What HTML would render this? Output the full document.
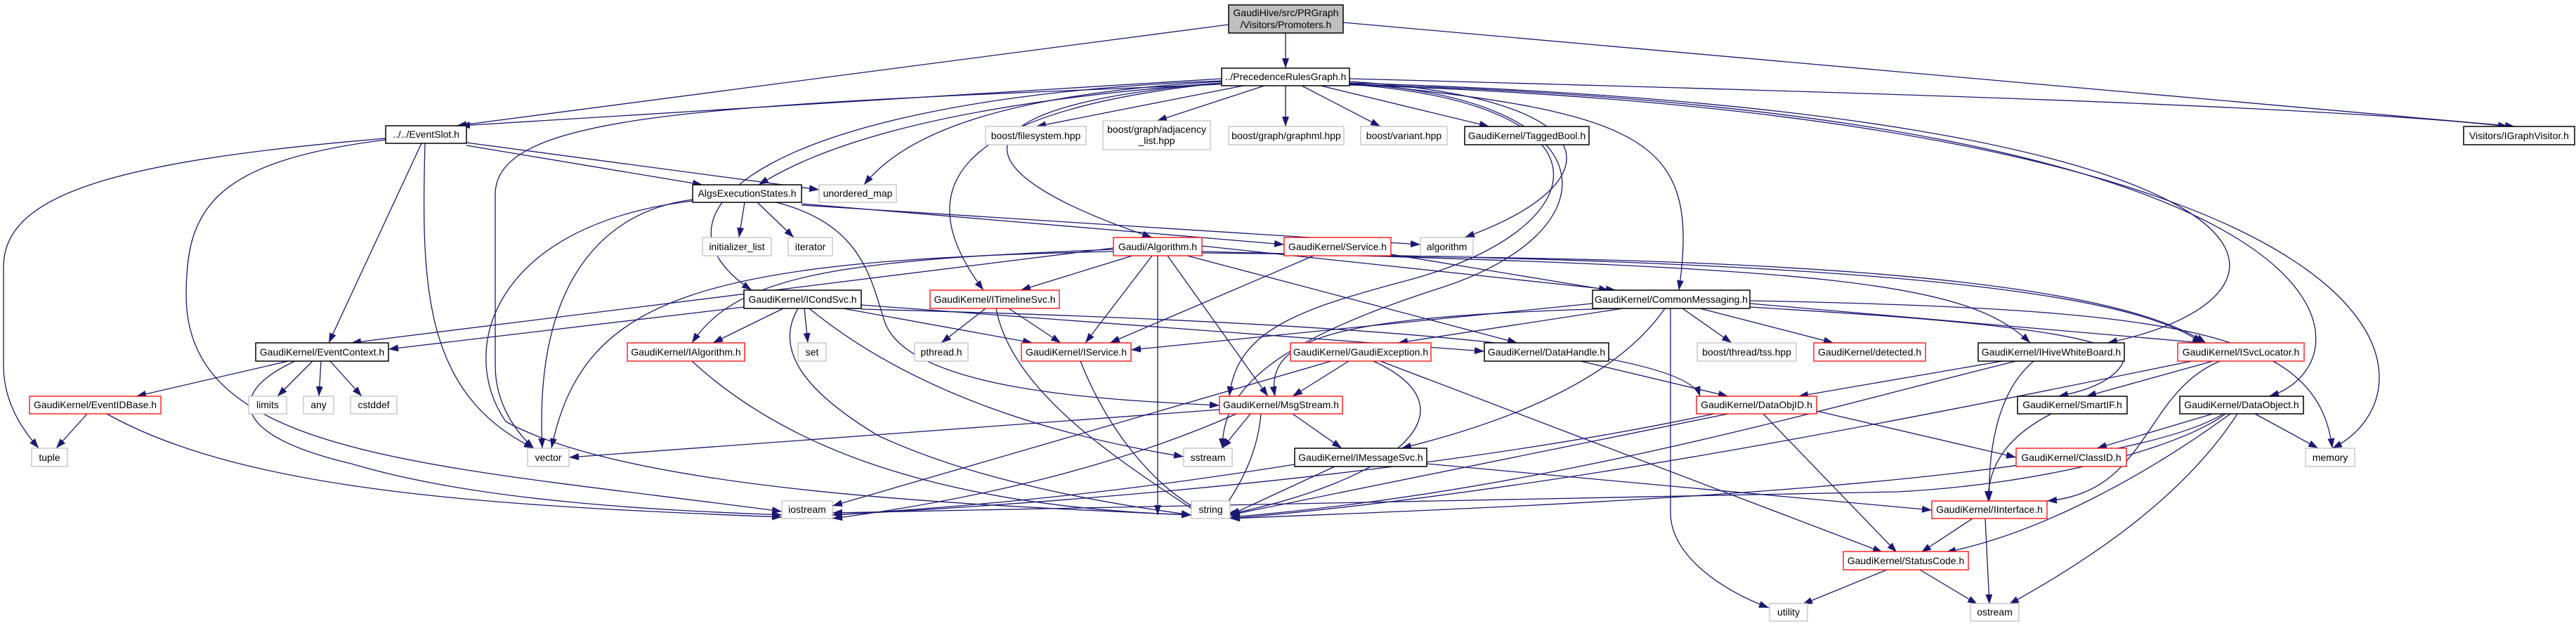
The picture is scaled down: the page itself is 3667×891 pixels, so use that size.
<!DOCTYPE html>
<html><head><meta charset="utf-8"><style>
html,body{margin:0;padding:0;background:#fff;}
svg{display:block;}
text{font-family:"Liberation Sans",Helvetica,Arial,sans-serif;font-size:14px;fill:#000;}
.e{fill:none;stroke:#191970;stroke-width:1.3;marker-end:url(#a);}
.b{fill:#fff;stroke:#000;stroke-width:1.5;}
.r{fill:#fff;stroke:#ff0000;stroke-width:1.3;}
.g{fill:#fff;stroke:#bfbfbf;stroke-width:1.3;}
</style></head><body>
<svg width="3667" height="891" viewBox="0 0 3667 891" xmlns="http://www.w3.org/2000/svg">
<defs><marker id="a" markerUnits="userSpaceOnUse" markerWidth="14" markerHeight="10" refX="14" refY="5" orient="auto"><path d="M0,0 L14,5 L0,10 z" fill="#191970"/></marker></defs>
<g>
<!-- Promoters -->
<path class="e" d="M1749,35 L650,179"/>
<path class="e" d="M1830,47 L1830,97"/>
<path class="e" d="M1912,32 L3580,180"/>
<!-- PRG -->
<path class="e" d="M1739,112 L655,179"/>
<path class="e" d="M1770,122 L1475,180"/>
<path class="e" d="M1800,122 L1647,172"/>
<path class="e" d="M1830,122 L1830,180"/>
<path class="e" d="M1853,122 L1965,180"/>
<path class="e" d="M1880,122 L2120,180"/>
<path class="e" d="M1921,112 C2600,130 3300,150 3570,180"/>
<path class="e" d="M1739,118 C1300,150 1150,220 1080,263"/>
<path class="e" d="M1739,116 C1400,135 1280,200 1230,263"/>
<path class="e" d="M1921,116 C2300,140 2300,260 2085,338"/>
<path class="e" d="M1739,118 C1350,150 1350,240 1640,338"/>
<path class="e" d="M1739,115 C1100,140 900,300 1070,413"/>
<path class="e" d="M1739,118 C1330,160 1300,280 1400,413"/>
<path class="e" d="M1921,118 C2350,160 2420,200 2390,413"/>
<path class="e" d="M1921,118 C3300,160 3330,420 3000,488"/>
<path class="e" d="M1921,120 C3400,160 3380,520 3230,564"/>
<path class="e" d="M1921,121 C3470,170 3480,560 3320,638"/>
<path class="e" d="M1739,120 C1000,150 700,160 705,280 L705,520 C705,580 740,620 760,638"/>
<path class="e" d="M1921,120 C2320,150 2270,330 2000,400 C1850,440 1760,470 1750,564"/>
<path class="e" d="M1921,119 C2300,140 2300,330 2050,410 C1800,490 1740,560 1740,638"/>
<!-- EventSlot -->
<path class="e" d="M549,197 C150,230 5,280 5,380 L5,520 C5,580 40,620 55,638"/>
<path class="e" d="M600,204 L468,488"/>
<path class="e" d="M605,204 C600,400 600,560 760,638"/>
<path class="e" d="M664,207 L1000,263"/>
<path class="e" d="M664,203 L1166,270"/>
<path class="e" d="M549,199 C300,230 265,300 265,420 C265,650 600,660 1113,728"/>
<!-- EventContext -->
<path class="e" d="M410,514 L194,564"/>
<path class="e" d="M445,514 L395,564"/>
<path class="e" d="M457,514 L454,564"/>
<path class="e" d="M470,514 L515,564"/>
<path class="e" d="M420,514 C320,560 330,620 500,660 C700,720 1000,728 1113,733"/>
<!-- EventIDBase -->
<path class="e" d="M124,589 L80,638"/>
<path class="e" d="M152,589 C350,700 700,720 1113,736"/>
<!-- AlgsExecutionStates -->
<path class="e" d="M1060,288 L1052,338"/>
<path class="e" d="M1078,288 L1130,338"/>
<path class="e" d="M1141,290 L1828,348"/>
<path class="e" d="M1141,292 L2022,348"/>
<path class="e" d="M986,284 C860,300 760,400 772,638"/>
<path class="e" d="M986,286 C700,320 650,500 720,600 C900,700 1400,720 1696,733"/>
<path class="e" d="M1105,288 C1230,320 1240,400 1260,460 C1300,560 1600,570 1736,577"/>
<!-- Gaudi/Algorithm -->
<path class="e" d="M1612,364 L1453,413"/>
<path class="e" d="M1640,364 L1545,488"/>
<path class="e" d="M1648,364 L1648,733"/>
<path class="e" d="M1662,364 L1805,564"/>
<path class="e" d="M1711,350 L2300,413"/>
<path class="e" d="M1690,364 L2160,488"/>
<path class="e" d="M1585,355 C1200,370 1050,390 985,488"/>
<path class="e" d="M1585,353 L500,488"/>
<path class="e" d="M1585,358 C1000,370 830,420 785,638"/>
<path class="e" d="M1711,358 C2600,380 2800,400 2890,488"/>
<path class="e" d="M1711,360 C2800,370 3050,430 3135,488"/>
<!-- ICondSvc -->
<path class="e" d="M1115,439 L1015,488"/>
<path class="e" d="M1145,439 L1150,488"/>
<path class="e" d="M1200,439 L1470,488"/>
<path class="e" d="M1059,437 L553,497"/>
<path class="e" d="M1136,439 C1100,500 1150,560 1250,620 C1400,690 1600,720 1696,733"/>
<path class="e" d="M1152,439 C1300,560 1500,620 1685,650"/>
<path class="e" d="M1226,440 C2000,460 2400,500 2420,564"/>
<path class="e" d="M1226,434 L2113,500"/>
<!-- ITimelineSvc -->
<path class="e" d="M1403,439 L1340,488"/>
<path class="e" d="M1436,439 L1510,488"/>
<path class="e" d="M1418,439 C1440,560 1600,660 1710,733"/>
<!-- Service -->
<path class="e" d="M1870,364 L1580,488"/>
<path class="e" d="M1980,362 L2290,413"/>
<path class="e" d="M1980,365 C2800,370 3050,430 3140,488"/>
<!-- CommonMessaging -->
<path class="e" d="M2267,432 L1610,498"/>
<path class="e" d="M2310,439 L1990,488"/>
<path class="e" d="M2300,439 C1900,450 1800,480 1815,564"/>
<path class="e" d="M2370,439 C2300,540 2150,600 1995,638"/>
<path class="e" d="M2395,439 L2465,488"/>
<path class="e" d="M2420,439 L2610,488"/>
<path class="e" d="M2378,439 L2378,730 C2378,790 2450,840 2518,865"/>
<path class="e" d="M2491,432 L3135,488"/>
<path class="e" d="M2491,437 C2700,450 3050,470 3020,520 C3000,550 2950,560 2930,564"/>
<path class="e" d="M2491,428 C3100,440 3300,470 3320,638"/>
<!-- IService / IAlgorithm -->
<path class="e" d="M1538,514 C1580,620 1650,700 1720,733"/>
<path class="e" d="M985,514 C1100,620 1300,720 1696,733"/>
<!-- GaudiException -->
<path class="e" d="M1920,514 L1840,564"/>
<path class="e" d="M1895,514 L1185,720"/>
<path class="e" d="M1955,514 C2100,580 2000,680 1745,733"/>
<path class="e" d="M1965,514 L2680,786"/>
<!-- DataHandle / DataObjID -->
<path class="e" d="M2250,514 L2460,564"/>
<path class="e" d="M2586,585 L2870,651"/>
<path class="e" d="M2460,589 L1751,733"/>
<path class="e" d="M2510,589 L2700,786"/>
<path class="e" d="M2440,589 C2200,640 1800,700 1185,733"/>
<!-- IHiveWhiteBoard -->
<path class="e" d="M2850,514 L2560,564"/>
<path class="e" d="M2895,514 C2840,560 2830,650 2832,713"/>
<path class="e" d="M2870,514 C2600,580 2200,700 1751,736"/>
<!-- ISvcLocator -->
<path class="e" d="M3150,514 L2970,564"/>
<path class="e" d="M3160,514 C3050,560 3060,700 2914,713"/>
<path class="e" d="M3120,514 C2700,600 2200,700 1751,738"/>
<!-- SmartIF -->
<path class="e" d="M2920,589 C2860,620 2830,660 2830,713"/>
<!-- DataObject -->
<path class="e" d="M3150,589 L2985,638"/>
<path class="e" d="M3210,589 L3300,638"/>
<path class="e" d="M3175,589 C3050,680 2900,760 2770,786"/>
<path class="e" d="M3185,589 C3100,720 2950,810 2860,860"/>
<path class="e" d="M3168,589 C3100,640 2900,690 2700,700 L1185,730"/>
<path class="e" d="M3165,589 C3000,690 2200,720 1751,738"/>
<!-- MsgStream -->
<path class="e" d="M1736,583 L810,651"/>
<path class="e" d="M1780,589 L1740,638"/>
<path class="e" d="M1795,589 C1790,650 1760,700 1735,733"/>
<path class="e" d="M1840,589 L1910,638"/>
<path class="e" d="M1760,589 C1600,660 1400,710 1185,738"/>
<!-- IMessageSvc -->
<path class="e" d="M1900,664 L1751,733"/>
<path class="e" d="M1843,661 C1600,700 1400,720 1185,733"/>
<path class="e" d="M2031,660 L2750,726"/>
<!-- IInterface / StatusCode -->
<path class="e" d="M2808,738 L2735,786"/>
<path class="e" d="M2826,738 L2832,860"/>
<path class="e" d="M2686,811 L2566,860"/>
<path class="e" d="M2733,811 L2815,860"/>
</g>
<g>
<rect x="1749" y="7" width="163" height="40" fill="#bfbfbf" stroke="#000" stroke-width="1.5"/>
<text x="1830.5" y="23" text-anchor="middle">GaudiHive/src/PRGraph</text>
<text x="1830.5" y="40" text-anchor="middle">/Visitors/Promoters.h</text>
<rect class="b" x="1739" y="97" width="182" height="25"/><text x="1830" y="114" text-anchor="middle">../PrecedenceRulesGraph.h</text>

<rect class="b" x="549" y="179" width="115" height="25"/><text x="606.5" y="196" text-anchor="middle">../../EventSlot.h</text>
<rect class="g" x="1403" y="180" width="143" height="26"/><text x="1474.5" y="198" text-anchor="middle">boost/filesystem.hpp</text>
<rect class="g" x="1570" y="172" width="153" height="41"/><text x="1646.5" y="189" text-anchor="middle">boost/graph/adjacency</text><text x="1646.5" y="205" text-anchor="middle">_list.hpp</text>
<rect class="g" x="1749" y="180" width="164" height="26"/><text x="1831" y="198" text-anchor="middle">boost/graph/graphml.hpp</text>
<rect class="g" x="1937" y="180" width="123" height="26"/><text x="1998.5" y="198" text-anchor="middle">boost/variant.hpp</text>
<rect class="b" x="2085" y="180" width="177" height="26"/><text x="2173.5" y="198" text-anchor="middle">GaudiKernel/TaggedBool.h</text>
<rect class="b" x="3507" y="180" width="158" height="26"/><text x="3586" y="198" text-anchor="middle">Visitors/IGraphVisitor.h</text>

<rect class="b" x="986" y="263" width="155" height="25"/><text x="1063.5" y="280" text-anchor="middle">AlgsExecutionStates.h</text>
<rect class="g" x="1166" y="263" width="110" height="25"/><text x="1221" y="280" text-anchor="middle">unordered_map</text>

<rect class="g" x="1000" y="338" width="98" height="26"/><text x="1049" y="356" text-anchor="middle">initializer_list</text>
<rect class="g" x="1122" y="338" width="63" height="26"/><text x="1153.5" y="356" text-anchor="middle">iterator</text>
<rect class="r" x="1585" y="338" width="126" height="26"/><text x="1648" y="356" text-anchor="middle">Gaudi/Algorithm.h</text>
<rect class="r" x="1828" y="338" width="152" height="26"/><text x="1904" y="356" text-anchor="middle">GaudiKernel/Service.h</text>
<rect class="g" x="2022" y="338" width="75" height="26"/><text x="2059.5" y="356" text-anchor="middle">algorithm</text>

<rect class="b" x="1059" y="413" width="167" height="26"/><text x="1142.5" y="431" text-anchor="middle">GaudiKernel/ICondSvc.h</text>
<rect class="r" x="1324" y="413" width="184" height="26"/><text x="1416" y="431" text-anchor="middle">GaudiKernel/ITimelineSvc.h</text>
<rect class="b" x="2267" y="413" width="224" height="26"/><text x="2379" y="431" text-anchor="middle">GaudiKernel/CommonMessaging.h</text>

<rect class="b" x="364" y="488" width="189" height="26"/><text x="458.5" y="506" text-anchor="middle">GaudiKernel/EventContext.h</text>
<rect class="r" x="893" y="488" width="167" height="26"/><text x="976.5" y="506" text-anchor="middle">GaudiKernel/IAlgorithm.h</text>
<rect class="g" x="1136" y="488" width="40" height="26"/><text x="1156" y="506" text-anchor="middle">set</text>
<rect class="g" x="1302" y="488" width="76" height="26"/><text x="1340" y="506" text-anchor="middle">pthread.h</text>
<rect class="r" x="1454" y="488" width="156" height="26"/><text x="1532" y="506" text-anchor="middle">GaudiKernel/IService.h</text>
<rect class="r" x="1837" y="488" width="200" height="26"/><text x="1937" y="506" text-anchor="middle">GaudiKernel/GaudiException.h</text>
<rect class="b" x="2113" y="488" width="177" height="26"/><text x="2201.5" y="506" text-anchor="middle">GaudiKernel/DataHandle.h</text>
<rect class="g" x="2416" y="488" width="141" height="26"/><text x="2486.5" y="506" text-anchor="middle">boost/thread/tss.hpp</text>
<rect class="r" x="2582" y="488" width="159" height="26"/><text x="2661.5" y="506" text-anchor="middle">GaudiKernel/detected.h</text>
<rect class="b" x="2816" y="488" width="208" height="26"/><text x="2920" y="506" text-anchor="middle">GaudiKernel/IHiveWhiteBoard.h</text>
<rect class="r" x="3100" y="488" width="180" height="26"/><text x="3190" y="506" text-anchor="middle">GaudiKernel/ISvcLocator.h</text>

<rect class="r" x="42" y="564" width="187" height="25"/><text x="135.5" y="581" text-anchor="middle">GaudiKernel/EventIDBase.h</text>
<rect class="g" x="354" y="564" width="54" height="25"/><text x="381" y="581" text-anchor="middle">limits</text>
<rect class="g" x="432" y="564" width="43" height="25"/><text x="453.5" y="581" text-anchor="middle">any</text>
<rect class="g" x="499" y="564" width="66" height="25"/><text x="532" y="581" text-anchor="middle">cstddef</text>
<rect class="r" x="1736" y="564" width="175" height="25"/><text x="1823.5" y="581" text-anchor="middle">GaudiKernel/MsgStream.h</text>
<rect class="r" x="2415" y="564" width="171" height="25"/><text x="2500.5" y="581" text-anchor="middle">GaudiKernel/DataObjID.h</text>
<rect class="b" x="2872" y="564" width="156" height="25"/><text x="2950" y="581" text-anchor="middle">GaudiKernel/SmartIF.h</text>
<rect class="b" x="3103" y="564" width="176" height="25"/><text x="3191" y="581" text-anchor="middle">GaudiKernel/DataObject.h</text>

<rect class="g" x="45" y="638" width="51" height="26"/><text x="70.5" y="656" text-anchor="middle">tuple</text>
<rect class="g" x="751" y="638" width="59" height="26"/><text x="780.5" y="656" text-anchor="middle">vector</text>
<rect class="g" x="1685" y="638" width="69" height="26"/><text x="1719.5" y="656" text-anchor="middle">sstream</text>
<rect class="b" x="1843" y="638" width="188" height="26"/><text x="1937" y="656" text-anchor="middle">GaudiKernel/IMessageSvc.h</text>
<rect class="r" x="2870" y="638" width="157" height="26"/><text x="2948.5" y="656" text-anchor="middle">GaudiKernel/ClassID.h</text>
<rect class="g" x="3282" y="638" width="70" height="26"/><text x="3317" y="656" text-anchor="middle">memory</text>

<rect class="g" x="1113" y="713" width="72" height="25"/><text x="1149" y="730" text-anchor="middle">iostream</text>
<rect class="g" x="1696" y="713" width="55" height="25"/><text x="1723.5" y="730" text-anchor="middle">string</text>
<rect class="r" x="2750" y="713" width="164" height="25"/><text x="2832" y="730" text-anchor="middle">GaudiKernel/IInterface.h</text>

<rect class="r" x="2624" y="785" width="178" height="26"/><text x="2713" y="803" text-anchor="middle">GaudiKernel/StatusCode.h</text>

<rect class="g" x="2519" y="859" width="54" height="25"/><text x="2546" y="876" text-anchor="middle">utility</text>
<rect class="g" x="2805" y="859" width="69" height="25"/><text x="2839.5" y="876" text-anchor="middle">ostream</text>
</g>
</svg>
</body></html>
